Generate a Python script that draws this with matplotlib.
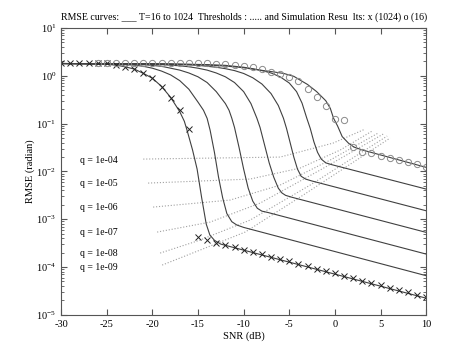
import numpy as np
import matplotlib
matplotlib.use("Agg")
import matplotlib.pyplot as plt

plt.rcParams['font.family'] = ['Liberation Serif', 'DejaVu Serif']
plt.rcParams['mathtext.fontset'] = 'custom'
plt.rcParams['mathtext.rm'] = 'Liberation Serif'
plt.rcParams['mathtext.it'] = 'Liberation Serif:italic'
plt.rcParams['axes.unicode_minus'] = False

# ===========================================================================
# theoretical RMSE curves (x = SNR dB, log10 of RMSE)
snr_1024 = [-30, -27, -25, -24, -23, -22, -21, -20, -19, -18, -17, -16.5, -16.2, -15.6, -15.1, -14.6, -14.1, -13.7, -13.2, -12.5, 10]
lg_1024 = [0.258, 0.252, 0.24, 0.225, 0.19, 0.143, 0.053, -0.05, -0.22, -0.45, -0.75, -0.95, -1.14, -1.55, -1.95, -2.55, -3.1, -3.33, -3.44, -3.52, -4.65]

snr_512 = [-30, -25, -22, -21, -20, -19, -18, -17, -16, -15, -14.4, -14.0, -13.67, -13.2, -12.76, -12.3, -11.84, -11.3, -10.75, -10.0, 10]
lg_512 = [0.258, 0.25, 0.225, 0.2, 0.16, 0.1, 0.02, -0.1, -0.28, -0.55, -0.72, -0.89, -1.14, -1.6, -2.11, -2.55, -2.88, -3.05, -3.12, -3.17, -4.18]

snr_256 = [-30, -24, -21, -19, -18, -17, -16, -15, -14, -13, -12, -11.6, -11.3, -11.0, -10.5, -10.0, -9.5, -9.0, -8.5, -8.0, -7.3, 10]
lg_256 = [0.258, 0.252, 0.235, 0.2, 0.16, 0.12, 0.06, -0.02, -0.14, -0.33, -0.58, -0.72, -0.885, -1.08, -1.5, -1.95, -2.35, -2.62, -2.77, -2.83, -2.86, -3.728]

snr_128 = [-30, -22, -19, -17, -16, -15, -14, -13, -12, -11, -10, -9.2, -8.55, -8.2, -7.7, -7.2, -6.7, -6.2, -5.8, -5.4, -4.7, 10]
lg_128 = [0.258, 0.25, 0.235, 0.21, 0.19, 0.16, 0.12, 0.06, -0.02, -0.14, -0.33, -0.58, -0.885, -1.08, -1.45, -1.82, -2.12, -2.35, -2.45, -2.5, -2.54, -3.274]

snr_64 = [-30, -20, -17, -15, -13, -12, -11, -10, -9, -8, -7, -6.2, -5.64, -5.3, -4.9, -4.5, -4.1, -3.7, -3.2, -2.5, 10]
lg_64 = [0.258, 0.25, 0.238, 0.22, 0.18, 0.15, 0.11, 0.05, -0.04, -0.17, -0.37, -0.62, -0.885, -1.1, -1.4, -1.7, -1.95, -2.1, -2.16, -2.2, -2.822]

snr_32 = [-30, -18, -14, -12, -10, -9, -8, -7, -6, -5, -4.2, -3.6, -3.08, -2.7, -2.3, -1.9, -1.5, -1.0, -0.3, 10]
lg_32 = [0.258, 0.25, 0.235, 0.22, 0.18, 0.15, 0.11, 0.06, -0.02, -0.15, -0.33, -0.57, -0.885, -1.1, -1.38, -1.6, -1.74, -1.82, -1.86, -2.368]

snr_16 = [-30, -20, -15, -12, -10, -9, -7, -5.6, -4.5, -3.8, -3, -2, -1, -0.5, -0.15, 0.3, 0.8, 1.5, 2.1, 3, 10]
lg_16 = [0.258, 0.25, 0.235, 0.205, 0.17, 0.14, 0.09, 0.05, -0.01, -0.09, -0.18, -0.33, -0.52, -0.68, -0.885, -1.05, -1.27, -1.41, -1.49, -1.55, -1.914]

curves = [(snr_1024, lg_1024), (snr_512, lg_512), (snr_256, lg_256), (snr_128, lg_128),
          (snr_64, lg_64), (snr_32, lg_32), (snr_16, lg_16)]

# ===========================================================================
# simulation results
sim_snr_1024 = list(range(-30, 11))
sim_1024 = [1.83, 1.83, 1.83, 1.83, 1.83, 1.83, 1.68, 1.55, 1.39, 1.13, 0.89, 0.59, 0.35, 0.193, 0.076,
            4.2e-4, 3.6e-4, 3.25e-4, 2.9e-4, 2.6e-4, 2.3e-4, 2.05e-4, 1.85e-4, 1.64e-4, 1.46e-4,
            1.31e-4, 1.16e-4, 1.04e-4, 9.3e-5, 8.2e-5, 7.4e-5, 6.6e-5, 5.9e-5, 5.2e-5, 4.7e-5,
            4.2e-5, 3.7e-5, 3.3e-5, 2.95e-5, 2.65e-5, 2.35e-5]

sim_snr_16 = list(range(-26, 11))
sim_16 = [1.83, 1.83, 1.83, 1.83, 1.83, 1.83, 1.83, 1.83, 1.83, 1.83, 1.88, 1.83, 1.83, 1.77,
          1.74, 1.68, 1.63, 1.53, 1.39, 1.23, 1.09, 0.93, 0.78, 0.53, 0.366, 0.233, 0.128, 0.119,
          0.0319, 0.0258, 0.0246, 0.0213, 0.0194, 0.0173, 0.0155, 0.0141, 0.0122]

# ===========================================================================
# threshold lines (dotted), one per q
q_labels = ['q = 1e-04', 'q = 1e-05', 'q = 1e-06', 'q = 1e-07', 'q = 1e-08', 'q = 1e-09']
q_label_y = [0.0173, 5.7e-3, 1.8e-3, 5.4e-4, 1.96e-4, 1.0e-4]

th_snr = [[-21.0, -6.0, -0.19, 3.32],
          [-20.47, -9.29, -3.81, 0.58, 4.08],
          [-19.92, -11.48, -6.0, -0.52, 4.74],
          [-19.48, -13.67, -8.19, -1.62, 5.29],
          [-19.15, -14.77, -9.29, -2.71, 5.73],
          [-18.93, -14.77, -9.84, -3.81, 6.05]]
th_lg = [[-1.741, -1.699, -1.406, -1.113],
         [-2.243, -2.159, -1.929, -1.552, -1.155],
         [-2.745, -2.598, -2.285, -1.762, -1.197],
         [-3.268, -3.059, -2.661, -1.971, -1.218],
         [-3.707, -3.435, -3.017, -2.285, -1.259],
         [-3.958, -3.644, -3.268, -2.536, -1.301]]

# ===========================================================================
fig = plt.figure(figsize=(4.74, 3.55), dpi=100)
ax = fig.add_axes([0.129, 0.113, 0.770, 0.808])

for xs, ys in zip(th_snr, th_lg):
    ax.plot(xs, 10 ** np.array(ys), ':', color='#a0a0a0', lw=0.8)

for xs, ys in curves:
    ax.plot(xs, 10 ** np.array(ys), '-', color='#404040', lw=0.8)

ax.plot(sim_snr_1024, sim_1024, 'x', color='#222222', ms=4, mew=0.7)
ax.plot(sim_snr_16, sim_16, 'o', mfc='none', mec='#8a8a8a', ms=4.5, mew=0.7)

for lab, yv in zip(q_labels, q_label_y):
    ax.text(-27.9, yv, lab, fontsize=7, va='center', ha='left')

ax.set_yscale('log')
ax.set_xlim(-30, 10)
ax.set_ylim(1e-5, 1e1)
ax.set_xticks([-30, -25, -20, -15, -10, -5, 0, 5, 10])
ax.tick_params(which='both', direction='in', top=True, right=True, labelsize=7.5, color='#555555')
ax.tick_params(which='major', length=4)
ax.tick_params(which='minor', length=2)
for s in ax.spines.values():
    s.set_color('#555555')

ax.set_title('RMSE curves: ___ T=16 to 1024  Thresholds : ..... and Simulation Resu  lts: x (1024) o (16)',
             fontsize=7.1, pad=6)
ax.set_xlabel('SNR (dB)', fontsize=7.5, labelpad=2)
ax.set_ylabel('RMSE (radian)', fontsize=7.5)
ax.yaxis.set_label_coords(-0.072, 0.5)

fig.savefig('out.png', dpi=100)
